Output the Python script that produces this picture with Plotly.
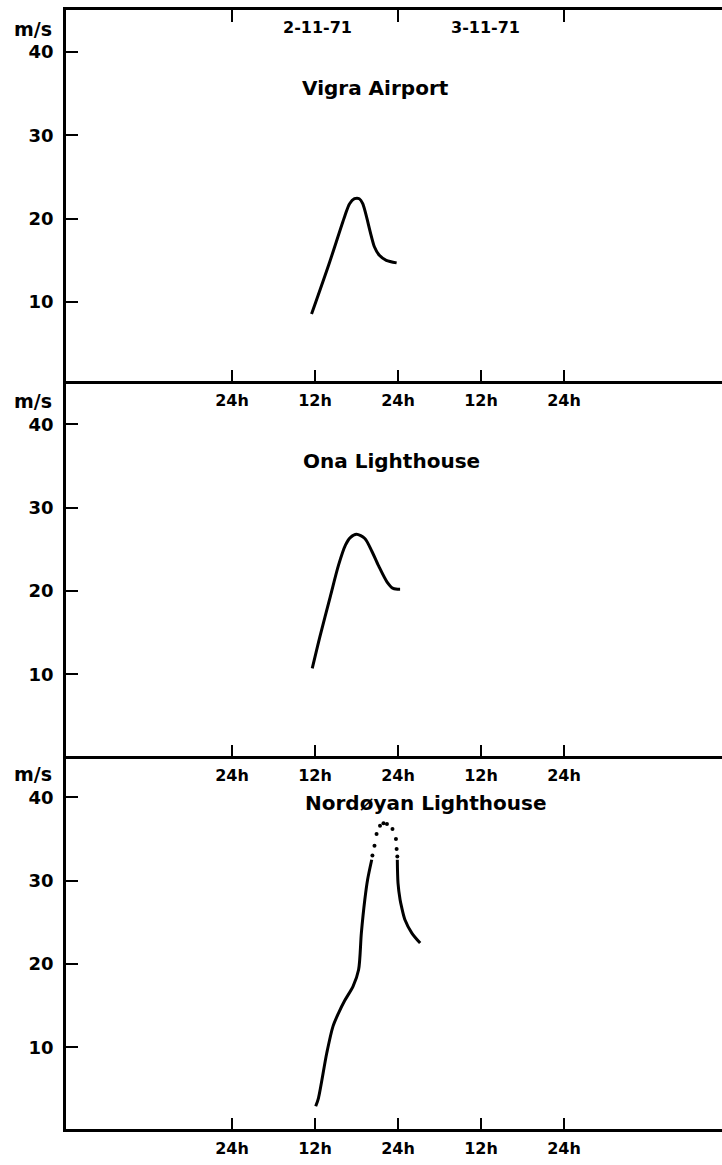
import plotly.graph_objects as go

# Hours counted from 00h on 1-11-71
vigra_t = [35.5, 38.0, 40.3, 41.0, 41.7, 42.4, 42.9, 44.6, 45.3, 46.3, 47.8]
vigra_v = [8.55, 14.5, 20.3, 21.8, 22.4, 22.4, 21.8, 16.6, 15.6, 15.0, 14.7]

ona_t = [35.6, 36.7, 38.2, 39.4, 40.4, 41.1, 42.0, 43.2, 44.2, 45.2, 46.4, 47.3, 48.3]
ona_v = [10.7, 14.5, 19.3, 23.1, 25.5, 26.4, 26.8, 26.3, 24.8, 23.0, 21.1, 20.3, 20.2]

nord_rise_t = [36.1, 36.5, 37.7, 38.6, 39.4, 40.3, 41.5, 42.3, 42.7, 43.2, 43.6, 44.2]
nord_rise_v = [2.9, 3.9, 9.3, 12.5, 14.1, 15.6, 17.3, 19.3, 23.7, 27.7, 30.1, 32.5]
nord_peak_t = [44.3, 44.6, 44.9, 45.4, 45.9, 46.4, 47.2, 47.7, 47.8, 47.9]
nord_peak_v = [33.0, 34.2, 35.6, 36.6, 36.9, 36.8, 36.2, 35.0, 33.8, 32.9]
nord_fall_t = [47.9, 48.0, 48.3, 48.5, 49.0, 50.0, 51.2]
nord_fall_v = [32.5, 29.7, 27.7, 26.9, 25.3, 23.7, 22.5]

hour_ticks = [24, 36, 48, 60, 72]
hour_labels = ["24h", "12h", "24h", "12h", "24h"]
day_ticks = [24, 48, 72]
speed_ticks = [10, 20, 30, 40]
date_pos = [36.4, 60.6]
date_labels = ["2-11-71", "3-11-71"]
stations = ["Vigra Airport", "Ona Lighthouse", "Nordøyan Lighthouse"]
station_pos = [(44.8, 35.7), (47.1, 35.6), (52.0, 39.3)]

W, H = 722, 1165
X_RANGE = [0, 94.84]
XDOM = [66 / W, 1]
FONT = "DejaVu Sans"
LW = 3

fig = go.Figure()
line = dict(color="black", width=LW, shape="spline", smoothing=0.8)
fig.add_trace(go.Scatter(x=vigra_t, y=vigra_v, mode="lines", line=line, xaxis="x3", yaxis="y3"))
fig.add_trace(go.Scatter(x=ona_t, y=ona_v, mode="lines", line=line, xaxis="x2", yaxis="y2"))
fig.add_trace(go.Scatter(x=nord_rise_t, y=nord_rise_v, mode="lines", line=line, xaxis="x", yaxis="y"))
fig.add_trace(go.Scatter(x=nord_peak_t, y=nord_peak_v, mode="markers",
                         marker=dict(color="black", size=4), xaxis="x", yaxis="y"))
fig.add_trace(go.Scatter(x=nord_fall_t, y=nord_fall_v, mode="lines", line=line, xaxis="x", yaxis="y"))
# invisible trace so the top date axis is drawn
fig.add_trace(go.Scatter(x=day_ticks, y=[20, 20, 20], mode="markers", opacity=0,
                         hoverinfo="skip", xaxis="x4", yaxis="y3"))

tickfont = dict(family=FONT, size=16, color="black", weight="bold")
yfont = dict(family=FONT, size=18, color="black", weight="bold")

def xax(anchor):
    return dict(domain=XDOM, range=X_RANGE, anchor=anchor, showgrid=False, zeroline=False,
                showline=True, linecolor="black", linewidth=2.5,
                tickvals=hour_ticks, ticktext=hour_labels, ticks="inside", ticklen=11,
                tickwidth=2, tickcolor="black", tickfont=tickfont, ticklabelstandoff=3)

def yax(anchor, dom, rng):
    return dict(domain=dom, range=rng, anchor=anchor, showgrid=False, zeroline=False,
                showline=True, linecolor="black", linewidth=2.5,
                tickvals=speed_ticks, ticks="inside", ticklen=12, tickwidth=2,
                tickcolor="black", tickfont=yfont, ticklabelstandoff=6)

d1 = [1 - 381 / H, 1 - 10 / H]
d2 = [1 - 756 / H, 1 - 381 / H]
d3 = [1 - 1129 / H, 1 - 756 / H]

fig.update_layout(
    width=W, height=H, margin=dict(l=0, r=0, t=0, b=0),
    paper_bgcolor="white", plot_bgcolor="rgba(0,0,0,0)", showlegend=False,
    xaxis=xax("y"), yaxis=yax("x", d3, [0.18, 44.96]),
    xaxis2=xax("y2"), yaxis2=yax("x2", d2, [0.19, 45.2]),
    xaxis3=xax("y3"), yaxis3=yax("x3", d1, [0.52, 45.05]),
    xaxis4=dict(domain=XDOM, range=X_RANGE, overlaying="x3", anchor="y3", side="top",
                showgrid=False, zeroline=False, showline=True, linecolor="black",
                linewidth=2.5, tickvals=day_ticks, ticks="inside", ticklen=12,
                tickwidth=2, tickcolor="black", showticklabels=False),
)

# left axis line continues below the bottom panel
fig.add_shape(type="line", xref="x", xsizemode="pixel", xanchor=0, x0=-1.25, x1=-1.25,
              yref="paper", y0=0, y1=d3[0], line=dict(color="black", width=2.5))

annots = []
for ya in ["y3", "y2", "y"]:
    annots.append(dict(text="m/s", xref="paper", x=54 / W, xanchor="right", yref=ya, y=40,
                       yanchor="middle", yshift=23, showarrow=False,
                       font=dict(family=FONT, size=19, color="black", weight="bold")))
for p, t in zip(date_pos, date_labels):
    annots.append(dict(text=t, xref="x3", x=p, yref="paper", y=1 - 28 / H,
                       yanchor="middle", showarrow=False, font=tickfont))
for (xa, ya), name, (px, py) in zip([("x3", "y3"), ("x2", "y2"), ("x", "y")], stations, station_pos):
    annots.append(dict(text=name, xref=xa, x=px, yref=ya, y=py, showarrow=False,
                       font=dict(family=FONT, size=20, color="black", weight="bold")))
fig.update_layout(annotations=annots)

fig.write_html("out.html")
